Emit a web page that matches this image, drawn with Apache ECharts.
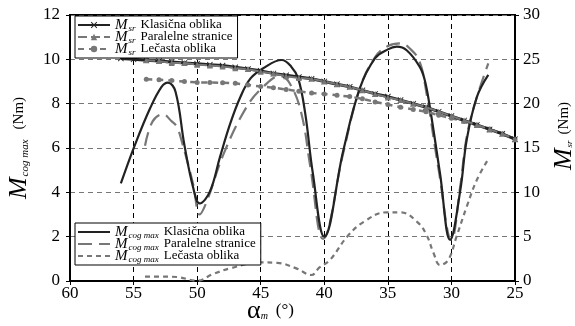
<!DOCTYPE html>
<html>
<head>
<meta charset="utf-8">
<script src="https://cdn.jsdelivr.net/npm/echarts@6/dist/echarts.min.js"></script>
<style>
  html, body { margin: 0; padding: 0; background: #fff; }
  #chart { width: 575px; height: 326px; }
</style>
</head>
<body>
<div id="chart"></div>
<script>
// M_sr curves (right axis), one point per degree
const alphaSrK = [56,55,54,53,52,51,50,49,48,47,46,45,44,43,42,41,40,39,38,37,36,35,34,33,32,31,30,29,28,27,26,25];
const srKlasicna = [25.1,25.0,24.9,24.8,24.7,24.6,24.5,24.4,24.3,24.1,23.9,23.7,23.4,23.2,23.0,22.8,22.5,22.2,21.9,21.5,21.1,20.8,20.4,20.0,19.6,19.1,18.6,18.1,17.6,17.1,16.6,16.0];
const alphaSr = [54,53,52,51,50,49,48,47,46,45,44,43,42,41,40,39,38,37,36,35,34,33,32,31,30,29,28,27,26,25];
const srParalelne = [24.9,24.8,24.6,24.6,24.4,24.3,24.2,24.0,23.9,23.6,23.4,23.1,22.9,22.8,22.5,22.2,21.9,21.5,21.1,20.7,20.4,20.0,19.6,19.1,18.6,18.1,17.6,17.1,16.6,16.0];
const srLecasta = [22.75,22.7,22.6,22.5,22.4,22.4,22.35,22.3,22.1,21.95,21.8,21.6,21.4,21.2,21.1,20.95,20.8,20.55,20.2,19.9,19.6,19.35,19.1,18.7,18.35,18.0,17.6,17.15,16.6,16.0];

// M_cog max curves (left axis)
const alphaCogK = [56.0,54.9,53.7,52.8,52.3,51.7,51.0,50.3,49.8,49.0,48.2,47.4,46.6,45.8,44.8,43.35,42.6,42.05,41.5,40.9,40.0,38.5,37.2,36.0,35.0,34.3,33.5,32.5,32.1,31.7,30.9,30.1,29.3,28.8,28.0,27.1];
const cogKlasicna = [4.4,6.13,7.79,8.76,8.95,8.54,6.13,4.18,3.5,4.03,5.6,7.1,8.3,9.14,9.6,9.97,9.67,9.14,7.56,4.86,2.0,5.9,8.7,10.05,10.45,10.57,10.4,9.67,9.07,7.86,4.86,1.85,4.1,6.36,8.3,9.3];
const alphaCogP = [54.1,53.5,52.7,52.0,51.6,51.2,50.3,49.8,49.25,47.9,46.1,44.8,43.5,42.7,41.8,41.1,40.1,38.5,37.2,36.0,35.0,34.0,33.2,32.5,32.0,31.0,30.0,29.3,28.8,28.1,27.1];
const cogParalelne = [6.1,7.2,7.52,7.2,6.96,6.28,4.33,3.0,3.58,5.76,7.86,8.76,9.25,8.9,7.56,5.16,1.9,5.8,8.7,10.1,10.6,10.72,10.45,9.9,8.6,5.0,1.85,4.3,6.5,8.1,9.82];
const alphaCogL = [54.1,53.0,51.6,50.0,48.8,47.4,45.0,43.7,42.2,41.0,40.4,39.55,38.2,36.9,35.1,34.0,32.7,31.95,31.4,30.9,30.25,29.6,28.8,28.0,27.1];
const cogLecasta = [0.2,0.2,0.18,0.01,0.3,0.57,0.84,0.82,0.57,0.27,0.6,0.95,2.0,2.67,3.1,3.1,2.67,2.07,1.25,0.72,0.95,2.0,3.35,4.56,5.5];

const legendLabels = {
  srK: '{m|M}{s|sr}{t|Klasična oblika}',
  srP: '{m|M}{s|sr}{t|Paralelne stranice}',
  srL: '{m|M}{s|sr}{t|Lečasta oblika}',
  cogK: '{m|M}{s|cog max}{t|Klasična oblika}',
  cogP: '{m|M}{s|cog max}{t|Paralelne stranice}',
  cogL: '{m|M}{s|cog max}{t|Lečasta oblika}'
};

const serif = 'Liberation Serif';
const dark = '#222';
const grey = '#777';
const crossPath = 'path://M0,1L1,0L5,4L9,0L10,1L6,5L10,9L9,10L5,6L1,10L0,9L4,5Z';

function pairs(xs, ys) {
  return xs.map(function (x, i) { return [x, ys[i]]; });
}

const legendRich = {
  m: { fontFamily: serif, fontStyle: 'italic', fontSize: 15, lineHeight: 12, color: '#000' },
  s: { fontFamily: serif, fontStyle: 'italic', fontSize: 9, lineHeight: 5, padding: [7, 0, 0, 1], color: '#000' },
  t: { fontFamily: serif, fontSize: 13, lineHeight: 12, padding: [0, 0, 0, 5], color: '#000' }
};

const legendBase = {
  orient: 'vertical',
  left: 75,
  itemWidth: 32, itemHeight: 8, itemGap: -4,
  padding: [1, 5, 1, 2],
  backgroundColor: '#fff',
  borderColor: '#000', borderWidth: 1,
  z: 20,
  formatter: function (name) { return legendLabels[name]; },
  textStyle: { lineHeight: 12, rich: legendRich }
};

const chart = echarts.init(document.getElementById('chart'));

chart.setOption({
  backgroundColor: '#fff',
  animation: false,
  grid: {
    left: 70, right: 60, top: 15, bottom: 45,
    containLabel: false,
    outerBoundsMode: 'none',
    show: true, borderColor: '#000', borderWidth: 2
  },
  legend: [
    Object.assign({}, legendBase, {
      top: 16,
      data: ['srK', 'srP', 'srL']
    }),
    Object.assign({}, legendBase, {
      top: 223,
      data: [
        { name: 'cogK', itemStyle: { opacity: 0 } },
        { name: 'cogP', itemStyle: { opacity: 0 } },
        { name: 'cogL', itemStyle: { opacity: 0 } }
      ]
    })
  ],
  xAxis: {
    type: 'value',
    inverse: true,
    min: 25, max: 60, interval: 5,
    name: '{a|α}{s|m}{u|(°)}',
    nameLocation: 'middle',
    nameGap: 17,
    nameMoveOverlap: false,
    nameTextStyle: {
      padding: [0, 44, 0, 0],
      rich: {
        a: { fontFamily: serif, fontSize: 26, color: '#000' },
        s: { fontFamily: serif, fontStyle: 'italic', fontSize: 10, padding: [10, 8, 0, 0], color: '#000' },
        u: { fontFamily: serif, fontSize: 17, color: '#000' }
      }
    },
    axisLine: { lineStyle: { color: '#000', width: 2 } },
    axisTick: { show: true, length: 4, lineStyle: { color: '#000' } },
    axisLabel: { fontFamily: serif, fontSize: 17, color: '#000', margin: 4 },
    splitLine: { show: true, lineStyle: { color: '#000', type: [5, 4], width: 1 } }
  },
  yAxis: [
    {
      type: 'value',
      min: 0, max: 12, interval: 2,
      position: 'left',
      name: '{m|M}{s|cog max}{u|(Nm)}',
      nameLocation: 'middle',
      nameRotate: 90,
      nameGap: 37,
      nameTextStyle: {
        rich: {
          m: { fontFamily: serif, fontStyle: 'italic', fontSize: 26, color: '#000' },
          s: { fontFamily: serif, fontStyle: 'italic', fontSize: 11, padding: [12, 10, 0, 1], color: '#000' },
          u: { fontFamily: serif, fontSize: 15, color: '#000' }
        }
      },
      axisLine: { show: true, lineStyle: { color: '#000', width: 2 } },
      axisTick: { show: true, length: 4, lineStyle: { color: '#000' } },
      axisLabel: { fontFamily: serif, fontSize: 17, color: '#000', margin: 10 },
      splitLine: { show: true, lineStyle: { color: '#000', type: [5, 4], width: 1 } }
    },
    {
      type: 'value',
      min: 0, max: 30, interval: 5,
      position: 'right',
      name: '{m|M}{s|sr}{u|(Nm)}',
      nameLocation: 'middle',
      nameRotate: 90,
      nameGap: 26,
      nameTextStyle: {
        padding: [0, 0, 0, 24],
        rich: {
          m: { fontFamily: serif, fontStyle: 'italic', fontSize: 26, color: '#000' },
          s: { fontFamily: serif, fontStyle: 'italic', fontSize: 9, padding: [12, 6, 0, 1], color: '#000' },
          u: { fontFamily: serif, fontSize: 15, color: '#000' }
        }
      },
      axisLine: { show: true, lineStyle: { color: '#000', width: 2 } },
      axisTick: { show: true, length: 4, lineStyle: { color: '#000' } },
      axisLabel: { fontFamily: serif, fontSize: 17, color: '#000', margin: 8 },
      splitLine: { show: true, lineStyle: { color: grey, type: [5, 4], width: 1 } }
    }
  ],
  series: [
    {
      name: 'srK', type: 'line', yAxisIndex: 1,
      data: pairs(alphaSrK, srKlasicna),
      symbol: crossPath, symbolSize: 6,
      itemStyle: { color: dark },
      lineStyle: { color: dark, width: 3 },
      z: 5
    },
    {
      name: 'srP', type: 'line', yAxisIndex: 1,
      data: pairs(alphaSr, srParalelne),
      symbol: 'triangle', symbolSize: 6,
      itemStyle: { color: grey },
      lineStyle: { color: grey, width: 2, type: [9, 4] },
      z: 6
    },
    {
      name: 'srL', type: 'line', yAxisIndex: 1,
      data: pairs(alphaSr, srLecasta),
      symbol: 'circle', symbolSize: 5,
      itemStyle: { color: grey },
      lineStyle: { color: grey, width: 2.5, type: [6, 5] },
      z: 4
    },
    {
      name: 'cogK', type: 'line', yAxisIndex: 0,
      data: pairs(alphaCogK, cogKlasicna),
      smooth: 0.4, showSymbol: false,
      itemStyle: { color: dark },
      lineStyle: { color: dark, width: 2.2 },
      z: 3
    },
    {
      name: 'cogP', type: 'line', yAxisIndex: 0,
      data: pairs(alphaCogP, cogParalelne),
      smooth: 0.4, showSymbol: false,
      itemStyle: { color: grey },
      lineStyle: { color: grey, width: 2.2, type: [14, 7] },
      z: 2
    },
    {
      name: 'cogL', type: 'line', yAxisIndex: 0,
      data: pairs(alphaCogL, cogLecasta),
      smooth: 0.4, showSymbol: false,
      itemStyle: { color: grey },
      lineStyle: { color: grey, width: 2.2, type: [5, 4] },
      z: 2
    }
  ]
});
</script>
</body>
</html>
